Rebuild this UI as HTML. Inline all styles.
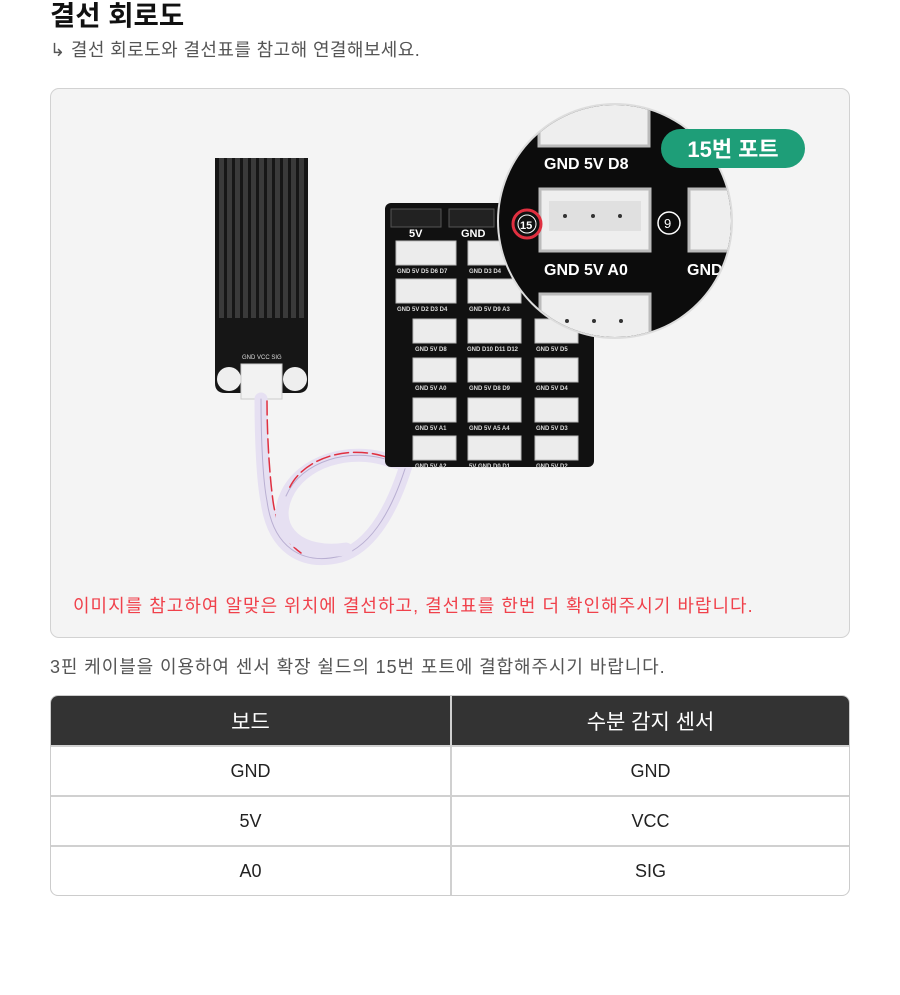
<!DOCTYPE html>
<html><head><meta charset="utf-8"><style>
*{margin:0;padding:0;box-sizing:border-box}
body{width:900px;height:995px;background:#fff;font-family:"Liberation Sans","Noto Sans CJK KR",sans-serif;position:relative;overflow:hidden}
.t{position:absolute;left:50px;top:-7px;font-size:27.5px;font-weight:bold;color:#111}
.s{position:absolute;left:50px;top:36px;font-size:18px;letter-spacing:0.4px;color:#555}
.box{position:absolute;left:50px;top:88px;width:800px;height:550px;border:1px solid #d2d2d2;border-radius:9px;background:#f4f4f4;overflow:hidden}
.red{position:absolute;left:73px;top:592px;font-size:18px;letter-spacing:1px;color:#f0414b}
.p{position:absolute;left:50px;top:653px;font-size:18px;letter-spacing:0.9px;color:#555}
table{position:absolute;left:50px;top:695px;width:800px;border-collapse:separate;border-spacing:0;border:1px solid #ccc;border-radius:8px;overflow:hidden;font-size:18px}
th{background:#333;color:#fff;height:49px;font-weight:normal;font-size:21px;width:50%}
td{height:50px;text-align:center;color:#222;border-top:2px solid #d0d0d0}
th+th,td+td{border-left:2px solid #d0d0d0}
</style></head><body>
<div class="t">결선 회로도</div>
<div class="s">↳ 결선 회로도와 결선표를 참고해 연결해보세요.</div>
<div class="box">
<svg width="800" height="550" viewBox="50 88 800 550" xmlns="http://www.w3.org/2000/svg">
<!-- sensor -->
<path d="M214 157 H307 V382 Q307 392 297 392 H224 Q214 392 214 382 Z" fill="#161616"/>
<g fill="#3a3a3a">
<rect x="218" y="157" width="5" height="160"/><rect x="226" y="157" width="5" height="160"/><rect x="234" y="157" width="5" height="160"/><rect x="242" y="157" width="5" height="160"/><rect x="250" y="157" width="5" height="160"/><rect x="258" y="157" width="5" height="160"/><rect x="266" y="157" width="5" height="160"/><rect x="274" y="157" width="5" height="160"/><rect x="282" y="157" width="5" height="160"/><rect x="290" y="157" width="5" height="160"/><rect x="298" y="157" width="5" height="160"/>
</g>
<circle cx="228" cy="378" r="12" fill="#eee"/><circle cx="294" cy="378" r="12" fill="#eee"/>
<text x="241" y="358" font-size="6" fill="#ddd">GND VCC SIG</text>
<rect x="240" y="363" width="41" height="35" fill="#f2f2f2" stroke="#ccc"/>
<!-- cable -->
<g fill="none" stroke-linecap="round">
<path d="M260 398 C260 440 262 480 266 500 C272 545 300 565 340 555 C385 540 410 470 425 375" stroke="#e6e0f2" stroke-width="13"/>
<path d="M260 398 C260 440 262 480 266 500 C272 545 300 565 340 555 C385 540 410 470 425 375" stroke="#b9afd2" stroke-width="1"/>
<path d="M266 400 C266 430 268 470 272 500 C276 530 290 545 300 552" stroke="#e03040" stroke-width="1.5" stroke-dasharray="14 5"/>
<path d="M435 375 C432 430 420 470 390 460 C350 445 300 460 285 495 C270 530 300 555 345 548" stroke="#e6e0f2" stroke-width="13"/>
<path d="M435 375 C432 430 420 470 390 460 C350 445 300 460 285 495" stroke="#b9afd2" stroke-width="1"/>
<path d="M385 456 C345 443 300 458 287 490" stroke="#e03040" stroke-width="1.5" stroke-dasharray="14 5"/>
</g>
<!-- board -->
<rect x="384" y="202" width="209" height="264" rx="6" fill="#111"/>
<rect x="390" y="208" width="50" height="18" fill="#222" stroke="#555"/>
<rect x="448" y="208" width="45" height="18" fill="#222" stroke="#555"/>
<text x="408" y="236" font-size="11" fill="#fff" font-weight="bold">5V</text>
<text x="460" y="236" font-size="11" fill="#fff" font-weight="bold">GND</text>
<g fill="#ececec" stroke="#bbb">
<rect x="395" y="240" width="60" height="24"/><rect x="467" y="240" width="53" height="24"/>
<rect x="395" y="278" width="60" height="24"/><rect x="467" y="278" width="53" height="24"/>
<rect x="412" y="318" width="43" height="24"/><rect x="467" y="318" width="53" height="24"/><rect x="534" y="318" width="43" height="24"/>
<rect x="412" y="357" width="43" height="24"/><rect x="467" y="357" width="53" height="24"/><rect x="534" y="357" width="43" height="24"/>
<rect x="412" y="397" width="43" height="24"/><rect x="467" y="397" width="53" height="24"/><rect x="534" y="397" width="43" height="24"/>
<rect x="412" y="435" width="43" height="24"/><rect x="467" y="435" width="53" height="24"/><rect x="534" y="435" width="43" height="24"/>
</g>
<g font-size="6" fill="#ddd" font-weight="bold">
<text x="396" y="272">GND 5V D5 D6 D7</text><text x="468" y="272">GND D3 D4</text>
<text x="396" y="310">GND 5V D2 D3 D4</text><text x="468" y="310">GND 5V D9 A3</text>
<text x="414" y="350">GND 5V D8</text><text x="466" y="350">GND D10 D11 D12</text><text x="535" y="350">GND 5V D5</text>
<text x="414" y="389">GND 5V A0</text><text x="468" y="389">GND 5V D8 D9</text><text x="535" y="389">GND 5V D4</text>
<text x="414" y="429">GND 5V A1</text><text x="468" y="429">GND 5V A5 A4</text><text x="535" y="429">GND 5V D3</text>
<text x="414" y="467">GND 5V A2</text><text x="468" y="467">5V GND D0 D1</text><text x="535" y="467">GND 5V D2</text>
</g>
<!-- magnifier -->
<defs><clipPath id="c"><circle cx="614" cy="220" r="116"/></clipPath></defs>
<circle cx="614" cy="220" r="118" fill="#ddd"/>
<g clip-path="url(#c)">
<rect x="490" y="100" width="250" height="240" fill="#0c0c0c"/>
<rect x="538" y="95" width="110" height="50" fill="#eee" stroke="#bbb" stroke-width="3"/>
<text x="543" y="168" font-size="16" fill="#fff" font-weight="bold">GND 5V D8</text>
<rect x="539" y="188" width="110" height="62" fill="#eee" stroke="#bbb" stroke-width="3"/>
<rect x="548" y="200" width="92" height="30" fill="#e0e0e0"/>
<circle cx="564" cy="215" r="2" fill="#333"/><circle cx="592" cy="215" r="2" fill="#333"/><circle cx="619" cy="215" r="2" fill="#333"/>
<text x="543" y="274" font-size="16" fill="#fff" font-weight="bold">GND 5V A0</text>
<rect x="688" y="188" width="50" height="62" fill="#eee" stroke="#bbb" stroke-width="3"/>
<text x="686" y="274" font-size="16" fill="#fff" font-weight="bold">GND</text>
<circle cx="668" cy="222" r="11" fill="none" stroke="#fff" stroke-width="1.5"/>
<text x="663" y="227" font-size="13" fill="#fff">9</text>
<rect x="539" y="293" width="110" height="60" fill="#eee" stroke="#bbb" stroke-width="3"/>
<circle cx="566" cy="320" r="2" fill="#333"/><circle cx="593" cy="320" r="2" fill="#333"/><circle cx="620" cy="320" r="2" fill="#333"/>
</g>
<circle cx="526" cy="223" r="14" fill="#111" stroke="#e03040" stroke-width="3"/>
<circle cx="526" cy="223" r="9" fill="none" stroke="#fff" stroke-width="1"/>
<text x="519" y="228" font-size="11" fill="#fff" font-weight="bold">15</text>
<rect x="660" y="128" width="144" height="39" rx="19.5" fill="#1e9e78"/>
<text x="732" y="156" font-size="22" fill="#fff" text-anchor="middle" font-weight="bold" font-family="Liberation Sans,Noto Sans CJK KR,sans-serif">15번 포트</text>
</svg>
</div>
<div class="red">이미지를 참고하여 알맞은 위치에 결선하고, 결선표를 한번 더 확인해주시기 바랍니다.</div>
<div class="p">3핀 케이블을 이용하여 센서 확장 쉴드의 15번 포트에 결합해주시기 바랍니다.</div>
<table>
<tr><th>보드</th><th>수분 감지 센서</th></tr>
<tr><td>GND</td><td>GND</td></tr>
<tr><td>5V</td><td>VCC</td></tr>
<tr><td>A0</td><td>SIG</td></tr>
</table>
</body></html>
